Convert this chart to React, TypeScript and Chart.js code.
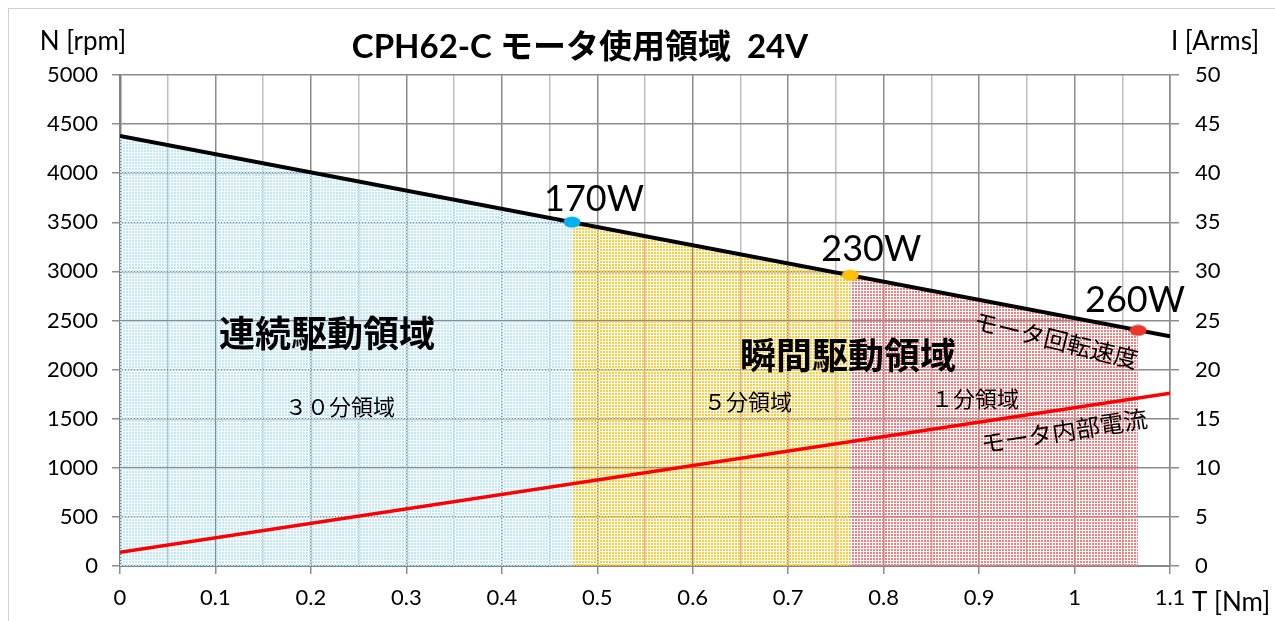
import React, { useEffect, useRef } from 'react';
import { Chart, registerables } from 'chart.js';

Chart.register(...registerables);

// ---- data ----
const torqueMin = 0;
const torqueMax = 1.1;
const speedMin = 0;
const speedMax = 5000;
const currentMin = 0;
const currentMax = 50;

const speedLineT = [0, 1.1];
const speedLineN = [4380, 2340];

const currentLineT = [0, 1.1];
const currentLineI = [1.4, 17.6];

const powerLabels = ['170W', '230W', '260W'];
const powerT = [0.4735, 0.765, 1.0665];
const powerN = [3502, 2961, 2400];
const powerColors = ['#00B0F0', '#FFC000', '#E8382E'];

const continuousT = [0, 0.4735];
const continuousN = [4380, 3502];
const fiveMinT = [0.4735, 0.765];
const fiveMinN = [3502, 2961];
const oneMinT = [0.765, 1.0665];
const oneMinN = [2961, 2400];

const titleText = 'CPH62-C モータ使用領域  24V';
const leftAxisTitle = 'N [rpm]';
const rightAxisTitle = 'I [Arms]';
const xAxisTitle = 'T [Nm]';

const toPoints = (xs: number[], ys: number[]) => xs.map((x, i) => ({ x, y: ys[i] }));

function makePattern(color: string): CanvasPattern | string {
  const c = document.createElement('canvas');
  c.width = 3;
  c.height = 3;
  const g = c.getContext('2d');
  if (!g) return color;
  g.fillStyle = color;
  g.fillRect(0, 0, 2, 2);
  const p = g.createPattern(c, 'repeat');
  return p || color;
}

function makeEllipse(color: string): HTMLCanvasElement {
  const c = document.createElement('canvas');
  c.width = 18;
  c.height = 12;
  const g = c.getContext('2d')!;
  g.fillStyle = color;
  g.beginPath();
  g.ellipse(9, 6, 8.5, 5.5, 0, 0, Math.PI * 2);
  g.fill();
  return c;
}

const JP = '"Noto Sans CJK JP"';
const LAT = 'Lato, "Noto Sans CJK JP"';

const textPlugin = {
  id: 'textPlugin',
  afterDraw(chart: any) {
    const ctx: CanvasRenderingContext2D = chart.ctx;
    const xs = chart.scales.x;
    const ys = chart.scales.y;
    ctx.save();
    ctx.fillStyle = '#000';
    ctx.textBaseline = 'middle';
    ctx.textAlign = 'center';

    ctx.font = `bold 33px ${LAT}`;
    ctx.fillText(titleText, 580, 47);

    ctx.font = `26px ${LAT}`;
    ctx.fillText(leftAxisTitle, 83, 42);
    ctx.fillText(rightAxisTitle, 1215, 42);
    ctx.textAlign = 'left';
    ctx.fillText(xAxisTitle, 1192, 603);

    // power labels
    ctx.textAlign = 'center';
    ctx.font = `36px ${LAT}`;
    const offs = [[22, -23], [21, -26], [-3, -30]];
    powerLabels.forEach((l, i) => {
      const px = xs.getPixelForValue(powerT[i]);
      const py = ys.getPixelForValue(powerN[i]);
      ctx.fillText(l, px + offs[i][0], py + offs[i][1]);
    });

    ctx.font = `bold 36px ${JP}`;
    ctx.fillText('連続駆動領域', 327, 333);
    ctx.fillText('瞬間駆動領域', 848, 355);

    ctx.font = `22px ${JP}`;
    ctx.fillText('３０分領域', 340, 407);
    ctx.fillText('５分領域', 748, 402);
    ctx.fillText('１分領域', 975, 399);

    ctx.font = `24px ${JP}`;
    ctx.save();
    ctx.translate(1056, 340);
    ctx.rotate((13.7 * Math.PI) / 180);
    ctx.fillText('モータ回転速度', 0, 0);
    ctx.restore();

    ctx.save();
    ctx.translate(1064, 431);
    ctx.rotate((-8.9 * Math.PI) / 180);
    ctx.fillText('モータ内部電流', 0, 0);
    ctx.restore();

    ctx.restore();
  },
};

export default function App() {
  const ref = useRef<HTMLCanvasElement | null>(null);

  useEffect(() => {
    if (!ref.current) return;
    const isMajor = (v: number) => Math.round(v * 20) % 2 === 0;
    const plain = (v: any) => String(Math.round(Number(v) * 100) / 100);
    const chart = new Chart(ref.current, {
      type: 'line',
      data: {
        datasets: [
          {
            label: 'power',
            data: toPoints(powerT, powerN),
            showLine: false,
            pointStyle: powerColors.map(makeEllipse) as any,
            pointRadius: 8,
            order: 0,
          } as any,
          {
            label: 'speed',
            data: toPoints(speedLineT, speedLineN),
            borderColor: '#000000',
            borderWidth: 4,
            pointRadius: 0,
            fill: false,
            order: 1,
          },
          {
            label: 'current',
            data: toPoints(currentLineT, currentLineI),
            borderColor: '#FF0000',
            borderWidth: 3.5,
            pointRadius: 0,
            fill: false,
            yAxisID: 'y2',
            order: 1,
          },
          {
            label: 'continuous',
            data: toPoints(continuousT, continuousN),
            borderWidth: 0,
            pointRadius: 0,
            fill: 'origin',
            backgroundColor: makePattern('#BAEAFB'),
            order: 2,
          },
          {
            label: 'five',
            data: toPoints(fiveMinT, fiveMinN),
            borderWidth: 0,
            pointRadius: 0,
            fill: 'origin',
            backgroundColor: makePattern('#FFCC38'),
            order: 2,
          },
          {
            label: 'one',
            data: toPoints(oneMinT, oneMinN),
            borderWidth: 0,
            pointRadius: 0,
            fill: 'origin',
            backgroundColor: makePattern('#F47E7E'),
            order: 2,
          },
        ],
      },
      options: {
        responsive: false,
        devicePixelRatio: 1,
        animation: false,
        layout: { padding: { top: 75, left: 0, right: 0, bottom: 0 } },
        plugins: {
          legend: { display: false },
          tooltip: { enabled: false },
          title: { display: false },
        },
        scales: {
          x: {
            type: 'linear',
            min: torqueMin,
            max: torqueMax,
            afterFit: (s: any) => {
              s.height = 55;
            },
            ticks: {
              stepSize: 0.05,
              autoSkip: false,
              maxRotation: 0,
              padding: 11,
              color: '#000',
              font: { family: 'Lato', size: 22 },
              callback: (v: any) => {
                const n = Number(v);
                if (!isMajor(n)) return '';
                return String(Math.round(n * 10) / 10);
              },
            },
            grid: {
              color: (c: any) => (isMajor(c.tick?.value ?? 0) ? '#8C8C8C' : '#BFBFBF'),
              lineWidth: 1.5,
              tickLength: 8,
              tickColor: (c: any) => (isMajor(c.tick?.value ?? 0) ? '#8C8C8C' : 'rgba(0,0,0,0)'),
            },
            border: { color: '#868686', width: 2 },
          },
          y: {
            type: 'linear',
            position: 'left',
            min: speedMin,
            max: speedMax,
            afterFit: (s: any) => {
              s.width = 120;
            },
            ticks: {
              stepSize: 500,
              padding: 14,
              color: '#000',
              font: { family: 'Lato', size: 22 },
              callback: plain,
            },
            grid: { color: '#8C8C8C', lineWidth: 1.5, tickLength: 8 },
            border: { color: '#808080', width: 2.5 },
          },
          y2: {
            type: 'linear',
            position: 'right',
            min: currentMin,
            max: currentMax,
            afterFit: (s: any) => {
              s.width = 105;
            },
            ticks: {
              stepSize: 5,
              padding: 16,
              color: '#000',
              font: { family: 'Lato', size: 22 },
              callback: plain,
            },
            grid: { drawOnChartArea: false, color: '#8C8C8C', lineWidth: 1.5, tickLength: 9 },
            border: { color: '#8C8C8C', width: 1.5 },
          },
        },
      },
      plugins: [textPlugin],
    } as any);
    return () => chart.destroy();
  }, []);

  return (
    <div style={{ position: 'fixed', left: 0, top: 0, width: 1275, height: 621, overflow: 'hidden', background: '#fff' }}>
      <div
        style={{
          position: 'absolute',
          left: 8,
          top: 8,
          width: 1400,
          height: 800,
          border: '1.5px solid #D0D0D0',
        }}
      />
      <canvas
        ref={ref}
        width={1275}
        height={621}
        style={{ position: 'absolute', left: 0, top: 0, width: 1275, height: 621 }}
      />
    </div>
  );
}
